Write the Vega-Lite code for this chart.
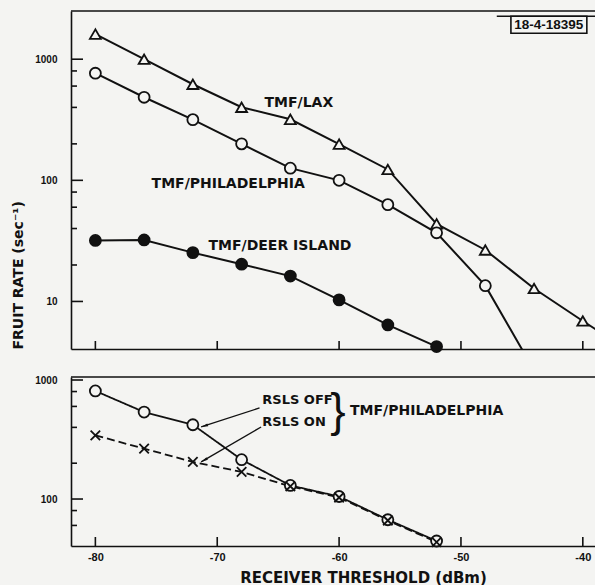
{
  "$schema": "https://vega.github.io/schema/vega-lite/v6.json",
  "background": "#f4f4f2",
  "padding": {"left": 11, "top": 10, "right": 0, "bottom": 0},
  "spacing": 19,
  "resolve": {"scale": {"shape": "independent", "fill": "independent", "size": "independent", "strokeDash": "independent"}},
  "config": {
    "view": {"stroke": null},
    "axis": {"grid": false, "domain": true, "domainColor": "#111", "domainWidth": 1.6, "ticks": false, "labelColor": "#111", "titleColor": "#111", "labelFont": "Liberation Sans", "labelFontWeight": "bold", "labelFontSize": 10, "titleFont": "DejaVu Sans", "titleFontWeight": "bold", "labelOverlap": false, "labelExpr": "'' + datum.value"},
    "text": {"font": "DejaVu Sans", "fontWeight": "bold", "color": "#111"}
  },
  "datasets": {
    "top": [
      {"series": "LAX", "x": -80, "y": 1610},
      {"series": "LAX", "x": -76, "y": 1000},
      {"series": "LAX", "x": -72, "y": 621},
      {"series": "LAX", "x": -68, "y": 401},
      {"series": "LAX", "x": -64, "y": 319},
      {"series": "LAX", "x": -60, "y": 199},
      {"series": "LAX", "x": -56, "y": 123},
      {"series": "LAX", "x": -52, "y": 43.7},
      {"series": "LAX", "x": -48, "y": 26.6},
      {"series": "LAX", "x": -44, "y": 12.8},
      {"series": "LAX", "x": -40, "y": 6.9},
      {"series": "LAX", "x": -36, "y": 3.8},
      {"series": "PHILADELPHIA", "x": -80, "y": 766},
      {"series": "PHILADELPHIA", "x": -76, "y": 485},
      {"series": "PHILADELPHIA", "x": -72, "y": 317},
      {"series": "PHILADELPHIA", "x": -68, "y": 200},
      {"series": "PHILADELPHIA", "x": -64, "y": 126},
      {"series": "PHILADELPHIA", "x": -60, "y": 100},
      {"series": "PHILADELPHIA", "x": -56, "y": 63},
      {"series": "PHILADELPHIA", "x": -52, "y": 36.9},
      {"series": "PHILADELPHIA", "x": -48, "y": 13.5},
      {"series": "PHILADELPHIA", "x": -44, "y": 2.7},
      {"series": "DEER ISLAND", "x": -80, "y": 31.9},
      {"series": "DEER ISLAND", "x": -76, "y": 32.2},
      {"series": "DEER ISLAND", "x": -72, "y": 25.3},
      {"series": "DEER ISLAND", "x": -68, "y": 20.3},
      {"series": "DEER ISLAND", "x": -64, "y": 16.2},
      {"series": "DEER ISLAND", "x": -60, "y": 10.3},
      {"series": "DEER ISLAND", "x": -56, "y": 6.4},
      {"series": "DEER ISLAND", "x": -52, "y": 4.24}
    ],
    "bottom": [
      {"series": "OFF", "x": -80, "y": 809},
      {"series": "OFF", "x": -76, "y": 538},
      {"series": "OFF", "x": -72, "y": 421},
      {"series": "OFF", "x": -68, "y": 214},
      {"series": "OFF", "x": -64, "y": 130},
      {"series": "OFF", "x": -60, "y": 105},
      {"series": "OFF", "x": -56, "y": 67},
      {"series": "OFF", "x": -52, "y": 44.4},
      {"series": "ON", "x": -80, "y": 343},
      {"series": "ON", "x": -76, "y": 265},
      {"series": "ON", "x": -72, "y": 205},
      {"series": "ON", "x": -68, "y": 169},
      {"series": "ON", "x": -64, "y": 128},
      {"series": "ON", "x": -60, "y": 103},
      {"series": "ON", "x": -56, "y": 66},
      {"series": "ON", "x": -52, "y": 43.5}
    ],
    "topXTicks": [{"x": -80, "y": 4.05}, {"x": -70, "y": 4.05}, {"x": -60, "y": 4.05}, {"x": -50, "y": 4.05}, {"x": -40, "y": 4.05}],
    "topYMajor": [{"x": -82, "y": 10}, {"x": -82, "y": 100}, {"x": -82, "y": 1000}],
    "topYMinor": [{"x": -82, "y": 20}, {"x": -82, "y": 40}, {"x": -82, "y": 60}, {"x": -82, "y": 80}, {"x": -82, "y": 200}, {"x": -82, "y": 400}, {"x": -82, "y": 600}, {"x": -82, "y": 800}],
    "bottomXTicks": [{"x": -80, "y": 40.3}, {"x": -70, "y": 40.3}, {"x": -60, "y": 40.3}, {"x": -50, "y": 40.3}, {"x": -40, "y": 40.3}],
    "bottomYMajor": [{"x": -82, "y": 100}, {"x": -82, "y": 1000}],
    "bottomYMinor": [{"x": -82, "y": 60}, {"x": -82, "y": 80}, {"x": -82, "y": 200}, {"x": -82, "y": 400}, {"x": -82, "y": 600}, {"x": -82, "y": 800}],
    "topLabels": [
      {"x": -63.3, "y": 433, "label": "TMF/LAX"},
      {"x": -69.1, "y": 92.7, "label": "TMF/PHILADELPHIA"},
      {"x": -64.85, "y": 28.5, "label": "TMF/DEER ISLAND"}
    ],
    "topFrame": [{"x": -82, "x2": -39, "y": 2500}],
    "stampLine": [{"x": -47.06, "x2": -39, "y": 2264}],
    "stampBox": [{"x": -45.9, "x2": -39.67, "y": 2264, "y2": 1640}],
    "stampText": [{"x": -42.8, "y": 1911, "label": "18-4-18395"}],
    "bottomFrame": [{"x": -82, "x2": -39, "y": 1060}],
    "rslsLabels": [
      {"x": -66.3, "y": 680, "label": "RSLS OFF"},
      {"x": -66.3, "y": 444, "label": "RSLS ON"}
    ],
    "brace": [{"x": -60.1, "y": 538, "label": "}"}],
    "bottomName": [{"x": -59.1, "y": 548, "label": "TMF/PHILADELPHIA"}],
    "arrows": [
      {"x": -66.53, "y": 582, "x2": -71.32, "y2": 403},
      {"x": -66.4, "y": 403, "x2": -71.32, "y2": 205}
    ],
    "headOff": [{"x": -71.32, "y": 403}],
    "headOn": [{"x": -71.32, "y": 205}]
  },
  "vconcat": [
    {
      "width": 524,
      "height": 338,
      "encoding": {
        "x": {"field": "x", "type": "quantitative", "scale": {"domain": [-82, -39], "nice": false, "zero": false},
              "axis": {"labels": false, "title": null}},
        "y": {"field": "y", "type": "quantitative", "scale": {"type": "log", "domain": [4.05, 2500], "nice": false},
              "axis": {"values": [10, 100, 1000], "labelPadding": 14,
                       "title": "FRUIT RATE (sec⁻¹)", "titleAnchor": "start", "titlePadding": 9, "titleFontSize": 14}}
      },
      "layer": [
        {"data": {"name": "topFrame"}, "mark": {"type": "rule", "color": "#111", "strokeWidth": 1.6}, "encoding": {"x2": {"field": "x2"}}},
        {"data": {"name": "topXTicks"}, "mark": {"type": "point", "shape": "M0,0L0,-2", "filled": false, "stroke": "#111", "strokeWidth": 1.6, "opacity": 1, "size": 64}},
        {"data": {"name": "topYMajor"}, "mark": {"type": "point", "shape": "M0,0L2,0", "filled": false, "stroke": "#111", "strokeWidth": 1.6, "opacity": 1, "size": 144}},
        {"data": {"name": "topYMinor"}, "mark": {"type": "point", "shape": "M0,0L2,0", "filled": false, "stroke": "#111", "strokeWidth": 1.6, "opacity": 1, "size": 36}},
        {"data": {"name": "top"}, "mark": {"type": "line", "clip": true, "color": "#111", "strokeWidth": 2},
         "encoding": {"detail": {"field": "series", "type": "nominal"}}},
        {"data": {"name": "top"},
         "transform": [{"filter": "datum.y >= 4 && datum.x >= -82 && datum.x <= -39"}],
         "mark": {"type": "point", "filled": true, "stroke": "#111", "strokeWidth": 1.8, "opacity": 1},
         "encoding": {
           "shape": {"field": "series", "type": "nominal", "scale": {"domain": ["LAX", "PHILADELPHIA", "DEER ISLAND"], "range": ["triangle-up", "circle", "circle"]}, "legend": null},
           "fill": {"field": "series", "type": "nominal", "scale": {"domain": ["LAX", "PHILADELPHIA", "DEER ISLAND"], "range": ["#f4f4f2", "#f4f4f2", "#111"]}, "legend": null},
           "size": {"field": "series", "type": "ordinal", "scale": {"domain": ["LAX", "PHILADELPHIA", "DEER ISLAND"], "range": [120, 121, 72]}, "legend": null}
         }},
        {"data": {"name": "topLabels"}, "mark": {"type": "text", "fontSize": 14, "align": "center", "baseline": "middle"}, "encoding": {"text": {"field": "label"}}},
        {"data": {"name": "stampLine"}, "mark": {"type": "rule", "color": "#111", "strokeWidth": 1.5}, "encoding": {"x2": {"field": "x2"}}},
        {"data": {"name": "stampBox"}, "mark": {"type": "rect", "fill": null, "stroke": "#111", "strokeWidth": 1.6}, "encoding": {"x2": {"field": "x2"}, "y2": {"field": "y2"}}},
        {"data": {"name": "stampText"}, "mark": {"type": "text", "font": "Liberation Sans", "fontSize": 13.5, "align": "center", "baseline": "middle"}, "encoding": {"text": {"field": "label"}}}
      ]
    },
    {
      "width": 524,
      "height": 169,
      "encoding": {
        "x": {"field": "x", "type": "quantitative", "scale": {"domain": [-82, -39], "nice": false, "zero": false},
              "axis": {"values": [-80, -70, -60, -50, -40], "labelFontSize": 11, "labelPadding": 5,
                       "title": "RECEIVER THRESHOLD (dBm)", "titleFontSize": 15, "titlePadding": 8, "titleX": 292}},
        "y": {"field": "y", "type": "quantitative", "scale": {"type": "log", "domain": [40.3, 1060], "nice": false},
              "axis": {"values": [100, 1000], "labelPadding": 14, "title": null}}
      },
      "layer": [
        {"data": {"name": "bottomFrame"}, "mark": {"type": "rule", "color": "#111", "strokeWidth": 1.6}, "encoding": {"x2": {"field": "x2"}}},
        {"data": {"name": "bottomXTicks"}, "mark": {"type": "point", "shape": "M0,0L0,-2", "filled": false, "stroke": "#111", "strokeWidth": 1.6, "opacity": 1, "size": 81}},
        {"data": {"name": "bottomYMajor"}, "mark": {"type": "point", "shape": "M0,0L2,0", "filled": false, "stroke": "#111", "strokeWidth": 1.6, "opacity": 1, "size": 144}},
        {"data": {"name": "bottomYMinor"}, "mark": {"type": "point", "shape": "M0,0L2,0", "filled": false, "stroke": "#111", "strokeWidth": 1.6, "opacity": 1, "size": 36}},
        {"data": {"name": "bottom"}, "mark": {"type": "line", "color": "#111", "strokeWidth": 1.8},
         "encoding": {"strokeDash": {"field": "series", "type": "nominal", "scale": {"domain": ["OFF", "ON"], "range": [[1, 0], [8, 4]]}, "legend": null}}},
        {"data": {"name": "bottom"},
         "mark": {"type": "point", "filled": true, "stroke": "#111", "strokeWidth": 1.8, "opacity": 1},
         "encoding": {
           "shape": {"field": "series", "type": "nominal", "scale": {"domain": ["OFF", "ON"], "range": ["circle", "M-1,-1L1,1M-1,1L1,-1"]}, "legend": null},
           "fill": {"field": "series", "type": "nominal", "scale": {"domain": ["OFF", "ON"], "range": ["#f4f4f2", "transparent"]}, "legend": null},
           "size": {"field": "series", "type": "ordinal", "scale": {"domain": ["OFF", "ON"], "range": [121, 90]}, "legend": null}
         }},
        {"data": {"name": "arrows"}, "mark": {"type": "rule", "color": "#111", "strokeWidth": 1.3}, "encoding": {"x2": {"field": "x2"}, "y2": {"field": "y2"}}},
        {"data": {"name": "headOff"}, "mark": {"type": "point", "shape": "M0,0L0.45,2.2L-0.45,2.2Z", "filled": true, "color": "#111", "opacity": 1, "size": 40, "angle": 252}},
        {"data": {"name": "headOn"}, "mark": {"type": "point", "shape": "M0,0L0.45,2.2L-0.45,2.2Z", "filled": true, "color": "#111", "opacity": 1, "size": 40, "angle": 240}},
        {"data": {"name": "rslsLabels"}, "mark": {"type": "text", "fontSize": 13, "align": "left", "baseline": "middle"}, "encoding": {"text": {"field": "label"}}},
        {"data": {"name": "brace"}, "mark": {"type": "text", "font": "Liberation Sans", "fontSize": 46, "fontWeight": "normal", "align": "center", "baseline": "middle"}, "encoding": {"text": {"field": "label"}}},
        {"data": {"name": "bottomName"}, "mark": {"type": "text", "fontSize": 14, "align": "left", "baseline": "middle"}, "encoding": {"text": {"field": "label"}}}
      ]
    }
  ]
}
